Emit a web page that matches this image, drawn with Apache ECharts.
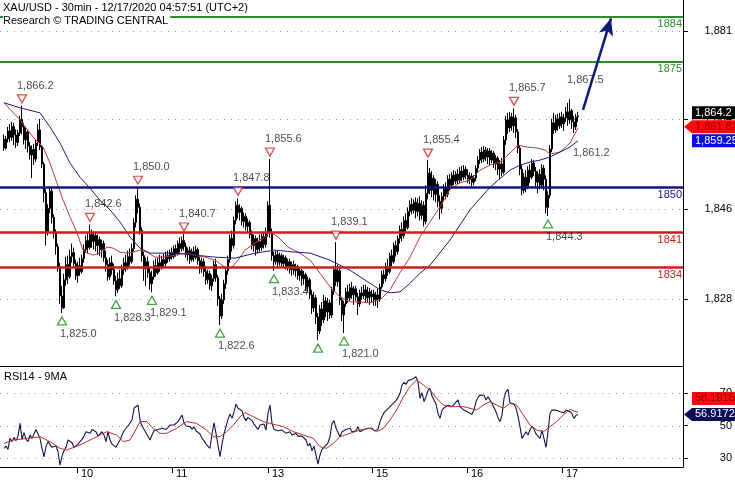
<!DOCTYPE html>
<html><head><meta charset="utf-8">
<script src="https://cdn.jsdelivr.net/npm/echarts@6/dist/echarts.min.js"></script>
<style>html,body{margin:0;padding:0;background:#fff}#c{width:735px;height:480px}</style>
</head><body><div id="c"></div>
<script>
// ---------- DATA ----------
const titleLines = ['XAU/USD - 30min - 12/17/2020 04:57:51 (UTC+2)', 'Research \u00A9 TRADING CENTRAL'];
const rsiTitle = 'RSI14 - 9MA';
// 30-minute candles, one per bar index: [open, close, low, high]
const candles = [
[1859.5,1857.8,1857.2,1860.5],[1857.8,1859.6,1857.5,1860.2],[1859.6,1861.2,1858.9,1862.0],[1861.2,1859.9,1859.0,1862.6],
[1859.9,1862.1,1859.3,1863.0],[1862.1,1860.4,1858.4,1862.8],[1860.4,1858.9,1857.8,1861.5],[1858.9,1860.8,1858.2,1861.4],
[1860.8,1863.5,1860.2,1864.2],[1863.5,1862.0,1860.5,1866.2],[1862.0,1859.4,1858.5,1862.8],[1859.4,1861.0,1857.6,1861.8],
[1861.0,1858.2,1856.9,1861.4],[1858.2,1856.4,1855.5,1859.0],[1856.4,1857.5,1851.8,1858.3],[1857.5,1855.6,1854.4,1858.6],
[1855.6,1858.8,1855.0,1859.4],[1858.8,1861.4,1858.2,1862.6],[1861.4,1858.0,1857.4,1863.6],[1858.0,1854.6,1853.8,1858.4],
[1854.6,1848.9,1847.0,1855.0],[1848.9,1841.2,1838.4,1849.6],[1841.2,1845.8,1840.4,1846.6],[1845.8,1849.2,1844.8,1850.0],
[1849.2,1844.0,1842.8,1849.8],[1844.0,1840.8,1839.8,1844.6],[1840.8,1838.2,1836.6,1841.6],[1838.2,1834.0,1833.2,1838.8],
[1834.0,1828.4,1826.8,1835.0],[1828.4,1826.0,1825.0,1830.4],[1826.0,1831.6,1825.8,1832.8],[1831.6,1834.6,1830.4,1836.2],
[1834.6,1832.2,1830.8,1836.4],[1832.2,1836.2,1831.8,1837.6],[1836.2,1837.0,1835.0,1838.8],[1837.0,1834.8,1834.0,1838.0],
[1834.8,1832.4,1831.6,1835.6],[1832.4,1834.4,1831.0,1835.2],[1834.4,1833.2,1832.4,1836.0],[1833.2,1835.8,1832.8,1836.6],
[1835.8,1837.6,1835.0,1838.6],[1837.6,1839.4,1837.0,1840.4],[1839.4,1838.0,1836.8,1841.0],[1838.0,1840.6,1837.6,1842.6],
[1840.6,1839.2,1838.0,1841.6],[1839.2,1840.4,1837.6,1841.2],[1840.4,1838.4,1837.2,1841.0],[1838.4,1839.6,1836.6,1840.6],
[1839.6,1837.6,1836.4,1840.2],[1837.6,1838.8,1836.0,1839.6],[1838.8,1836.0,1835.2,1839.4],[1836.0,1834.6,1833.2,1837.4],
[1834.6,1832.2,1831.4,1835.6],[1832.2,1835.0,1831.6,1836.0],[1835.0,1833.6,1832.6,1836.4],[1833.6,1831.4,1830.6,1834.8],
[1831.4,1829.6,1828.3,1832.4],[1829.6,1831.8,1829.0,1833.0],[1831.8,1830.4,1829.8,1833.6],[1830.4,1833.6,1830.0,1834.6],
[1833.6,1835.0,1832.6,1836.0],[1835.0,1834.0,1833.2,1836.6],[1834.0,1836.2,1833.6,1837.4],[1836.2,1835.2,1834.4,1837.8],
[1835.2,1837.8,1834.8,1838.8],[1837.8,1843.0,1837.2,1843.8],[1843.0,1847.6,1842.0,1848.4],[1847.6,1846.0,1844.8,1850.0],
[1846.0,1841.4,1840.6,1846.8],[1841.4,1836.4,1835.2,1842.0],[1836.4,1833.8,1831.4,1837.2],[1833.8,1835.2,1830.4,1836.0],
[1835.2,1833.0,1832.0,1836.2],[1833.0,1830.8,1829.6,1834.0],[1830.8,1832.2,1829.1,1833.4],[1832.2,1834.4,1831.6,1835.4],
[1834.4,1833.0,1832.2,1835.8],[1833.0,1835.0,1832.6,1836.0],[1835.0,1834.2,1833.2,1836.6],[1834.2,1835.6,1833.6,1836.4],
[1835.6,1834.8,1834.0,1836.8],[1834.8,1836.4,1834.2,1837.2],[1836.4,1835.8,1835.0,1837.4],[1835.8,1837.0,1835.2,1837.6],
[1837.0,1836.2,1835.6,1838.0],[1836.2,1837.8,1835.8,1838.4],[1837.8,1836.8,1836.2,1838.6],[1836.8,1838.8,1836.4,1839.4],
[1838.8,1837.8,1837.0,1840.0],[1837.8,1839.4,1837.2,1840.2],[1839.4,1838.2,1837.4,1840.7],[1838.2,1836.6,1836.0,1839.0],
[1836.6,1837.4,1835.4,1838.0],[1837.4,1835.6,1834.8,1838.2],[1835.6,1837.2,1835.2,1837.8],[1837.2,1836.0,1835.2,1838.2],
[1836.0,1837.6,1835.6,1838.4],[1837.6,1835.4,1834.6,1838.0],[1835.4,1833.8,1832.8,1836.2],[1833.8,1835.2,1833.0,1836.0],
[1835.2,1833.2,1832.2,1835.8],[1833.2,1831.6,1830.6,1834.2],[1831.6,1832.8,1830.8,1833.6],[1832.8,1830.4,1829.6,1833.4],
[1830.4,1831.8,1829.4,1832.6],[1831.8,1834.6,1831.2,1835.4],[1834.6,1832.0,1831.2,1835.8],[1832.0,1827.8,1826.4,1832.6],
[1827.8,1824.4,1822.6,1828.4],[1824.4,1827.6,1823.8,1828.8],[1827.6,1830.8,1826.8,1831.6],[1830.8,1833.4,1829.8,1834.2],
[1833.4,1835.6,1832.6,1836.4],[1835.6,1839.8,1835.0,1840.6],[1839.8,1838.4,1837.2,1841.4],[1838.4,1843.4,1837.8,1844.2],
[1843.4,1846.4,1842.6,1847.2],[1846.4,1845.0,1843.8,1847.8],[1845.0,1845.8,1843.4,1846.6],[1845.8,1843.2,1842.4,1846.2],
[1843.2,1844.2,1842.0,1845.0],[1844.2,1842.2,1841.4,1844.8],[1842.2,1843.0,1840.8,1843.8],[1843.0,1840.6,1839.8,1843.4],
[1840.6,1838.4,1837.6,1841.4],[1838.4,1839.8,1837.2,1840.6],[1839.8,1837.6,1836.4,1840.4],[1837.6,1839.2,1836.8,1840.0],
[1839.2,1838.0,1837.2,1840.6],[1838.0,1840.2,1837.4,1841.0],[1840.2,1838.6,1837.8,1841.2],[1838.6,1840.8,1838.0,1842.0],
[1840.8,1846.4,1840.2,1847.2],[1846.4,1841.0,1840.0,1855.6],[1841.0,1836.4,1835.4,1841.8],[1836.4,1835.2,1833.4,1837.2],
[1835.2,1836.6,1834.6,1837.4],[1836.6,1835.0,1834.2,1837.4],[1835.0,1836.4,1834.4,1837.0],[1836.4,1834.8,1834.0,1836.8],
[1834.8,1836.0,1834.2,1836.6],[1836.0,1834.2,1833.6,1836.4],[1834.2,1835.2,1833.4,1835.8],[1835.2,1833.6,1832.8,1835.8],
[1833.6,1834.6,1832.4,1835.2],[1834.6,1833.4,1832.6,1835.4],[1833.4,1834.2,1832.2,1834.8],[1834.2,1832.4,1831.6,1834.6],
[1832.4,1833.4,1831.4,1834.0],[1833.4,1831.8,1830.4,1833.8],[1831.8,1832.6,1830.6,1833.4],[1832.6,1830.2,1829.4,1833.0],
[1830.2,1831.6,1829.2,1832.2],[1831.6,1828.6,1827.8,1832.0],[1828.6,1826.0,1824.8,1829.6],[1826.0,1828.0,1825.2,1829.2],
[1828.0,1824.2,1822.8,1828.6],[1824.2,1821.4,1819.6,1825.0],[1821.4,1825.8,1820.8,1826.6],[1825.8,1823.6,1822.4,1827.2],
[1823.6,1827.4,1823.0,1828.6],[1827.4,1825.2,1824.2,1828.2],[1825.2,1827.0,1823.4,1828.0],[1827.0,1824.6,1823.8,1827.6],
[1824.6,1829.4,1824.0,1830.2],[1829.4,1833.6,1828.6,1834.4],[1833.6,1831.2,1830.4,1839.1],[1831.2,1833.4,1830.2,1834.6],
[1833.4,1827.6,1826.6,1834.0],[1827.6,1824.6,1823.4,1828.2],[1824.6,1826.8,1821.0,1827.4],[1826.8,1829.2,1826.2,1830.0],
[1829.2,1828.0,1827.0,1830.6],[1828.0,1830.0,1827.4,1830.8],[1830.0,1828.6,1827.8,1831.2],[1828.6,1829.8,1826.6,1830.4],
[1829.8,1828.2,1827.4,1830.4],[1828.2,1826.8,1824.6,1829.0],[1826.8,1829.0,1826.2,1829.6],[1829.0,1828.4,1827.6,1830.2],
[1828.4,1829.6,1827.8,1830.6],[1829.6,1828.0,1827.2,1830.6],[1828.0,1829.2,1827.2,1830.2],[1829.2,1828.2,1826.6,1830.0],
[1828.2,1828.8,1827.2,1829.6],[1828.8,1827.6,1826.4,1829.6],[1827.6,1828.6,1826.4,1829.2],[1828.6,1827.8,1826.0,1829.8],
[1827.8,1830.2,1827.2,1830.8],[1830.2,1832.6,1829.8,1833.4],[1832.6,1831.8,1830.8,1833.6],[1831.8,1834.2,1831.2,1835.0],
[1834.2,1833.2,1832.4,1835.8],[1833.2,1836.4,1832.8,1837.0],[1836.4,1835.2,1834.2,1837.6],[1835.2,1838.4,1834.8,1839.0],
[1838.4,1837.2,1836.2,1839.4],[1837.2,1839.8,1836.6,1840.4],[1839.8,1841.6,1838.8,1842.4],[1841.6,1840.4,1839.2,1843.0],
[1840.4,1843.4,1839.8,1844.2],[1843.4,1842.0,1841.0,1844.8],[1842.0,1845.2,1841.6,1846.0],[1845.2,1846.6,1844.2,1847.4],
[1846.6,1845.4,1844.6,1847.8],[1845.4,1847.0,1844.8,1847.6],[1847.0,1845.2,1843.8,1848.0],[1845.2,1846.8,1844.2,1847.8],
[1846.8,1844.4,1843.4,1848.2],[1844.4,1846.4,1843.6,1847.4],[1846.4,1843.2,1842.2,1847.2],[1843.2,1848.8,1842.6,1850.4],
[1848.8,1852.8,1847.6,1855.4],[1852.8,1849.4,1848.6,1853.8],[1849.4,1851.8,1848.0,1853.2],[1851.8,1848.6,1847.4,1852.4],
[1848.6,1850.6,1847.0,1851.6],[1850.6,1847.2,1846.0,1851.2],[1847.2,1845.8,1843.6,1848.4],[1845.8,1848.2,1844.8,1849.0],
[1848.2,1849.8,1847.2,1850.6],[1849.8,1848.6,1847.6,1851.0],[1848.6,1851.6,1848.0,1852.4],[1851.6,1850.4,1849.4,1852.6],
[1850.4,1852.4,1849.8,1853.0],[1852.4,1851.2,1850.4,1853.4],[1851.2,1852.6,1850.6,1853.2],[1852.6,1851.4,1850.6,1853.6],
[1851.4,1853.2,1850.8,1854.0],[1853.2,1852.0,1851.2,1854.2],[1852.0,1853.6,1851.4,1854.4],[1853.6,1852.4,1851.6,1854.2],
[1852.4,1851.6,1850.8,1853.6],[1851.6,1852.2,1850.6,1853.0],[1852.2,1851.0,1850.2,1852.8],[1851.0,1851.8,1850.4,1852.4],
[1851.8,1853.8,1851.2,1854.4],[1853.8,1855.4,1853.0,1856.2],[1855.4,1857.0,1854.6,1857.6],[1857.0,1855.6,1854.8,1858.0],
[1855.6,1857.4,1855.0,1858.2],[1857.4,1856.0,1855.2,1858.0],[1856.0,1857.2,1854.6,1857.8],[1857.2,1855.4,1854.4,1857.8],
[1855.4,1856.8,1854.8,1857.4],[1856.8,1854.6,1853.8,1857.2],[1854.6,1855.8,1853.4,1856.4],[1855.8,1853.6,1852.4,1856.2],
[1853.6,1854.6,1851.6,1855.4],[1854.6,1853.0,1852.2,1855.8],[1853.0,1859.4,1852.6,1860.2],[1859.4,1863.4,1858.4,1864.2],
[1863.4,1861.8,1860.6,1864.8],[1861.8,1864.0,1861.0,1865.0],[1864.0,1862.2,1861.2,1864.8],[1862.2,1863.8,1860.8,1865.7],
[1863.8,1861.0,1859.8,1864.4],[1861.0,1857.8,1856.8,1861.6],[1857.8,1853.6,1852.4,1858.4],[1853.6,1849.4,1848.4,1854.4],
[1849.4,1852.0,1848.8,1852.8],[1852.0,1850.2,1849.0,1853.4],[1850.2,1853.4,1849.6,1854.2],[1853.4,1852.0,1850.8,1854.6],
[1852.0,1854.8,1851.6,1855.6],[1854.8,1853.2,1852.2,1855.4],[1853.2,1851.0,1850.0,1854.0],[1851.0,1852.6,1848.8,1853.2],
[1852.6,1850.4,1849.6,1853.6],[1850.4,1853.8,1850.0,1854.6],[1853.8,1851.6,1849.4,1854.4],[1851.6,1846.0,1844.8,1852.4],
[1846.0,1848.4,1844.3,1849.2],[1848.4,1857.6,1847.8,1858.4],[1857.6,1862.8,1857.0,1863.6],[1862.8,1861.4,1860.6,1864.8],
[1861.4,1863.6,1860.8,1864.4],[1863.6,1862.2,1861.2,1864.6],[1862.2,1864.0,1861.6,1864.8],[1864.0,1862.6,1861.8,1865.0],
[1862.6,1863.8,1861.2,1864.6],[1863.8,1865.0,1863.0,1866.0],[1865.0,1863.4,1862.2,1866.8],[1863.4,1865.2,1862.6,1867.5],
[1865.2,1863.0,1861.6,1865.6],[1863.0,1862.0,1860.8,1864.2],[1862.0,1864.0,1861.4,1864.6],[1864.0,1864.2,1863.0,1865.0]
];
// moving averages: [bar, value]
const maFast = [[0,1866.8],[8,1863.4],[14.5,1860.0],[19.5,1858.0],[23,1854.8],[26.5,1850.8],[29.5,1847.5],[33,1844.1],[36.5,1840.9],[39.5,1837.5],[42,1836.9],[44.5,1836.5],[48,1836.9],[51.5,1838.1],[54.5,1837.9],[58,1837.1],[61.5,1836.9],[64.5,1837.1],[68,1837.5],[71.5,1837.1],[75.5,1836.1],[80.5,1836.1],[85.5,1836.5],[90.5,1836.9],[95.5,1836.5],[100.5,1836.1],[105.5,1835.5],[110.5,1834.1],[114,1834.1],[117,1835.5],[120.5,1837.5],[125.5,1838.9],[130.5,1840.1],[133,1841.1],[137,1840.1],[142,1838.1],[148,1836.9],[153,1835.5],[158,1832.9],[163,1830.2],[168,1828.2],[173,1827.2],[178,1827.2],[183,1827.0],[188,1827.6],[193,1829.6],[198,1833.0],[203,1836.1],[208,1840.1],[213,1843.1],[218,1846.1],[223,1849.5],[228,1850.9],[233,1851.4],[238,1853.4],[243,1854.4],[248,1855.0],[253,1856.8],[257,1858.4],[261.5,1858.0],[266.5,1857.8],[270.5,1857.4],[273,1856.6],[278,1857.0],[283,1858.8],[287,1861.82]];
const maSlow = [[0,1866.8],[8,1865.8],[18,1864.8],[23,1862.0],[28,1858.8],[33,1854.8],[38,1852.0],[43,1849.8],[48,1847.4],[53,1845.5],[58,1843.1],[63,1840.1],[68,1837.9],[73,1836.9],[85.5,1836.9],[95.5,1836.5],[105.5,1836.1],[115.5,1835.9],[125.5,1836.9],[135.5,1837.5],[145.5,1837.1],[153,1836.9],[163,1835.5],[173,1833.5],[183,1830.9],[188,1829.6],[193,1829.0],[198,1829.2],[203,1830.9],[208,1832.9],[213,1834.5],[223,1839.5],[233,1845.5],[243,1850.0],[253,1853.4],[258,1854.4],[263,1855.0],[268,1855.4],[273,1856.0],[278,1857.0],[283,1858.0],[287,1859.25]];
// RSI(14) per bar
const rsi = [36.1,37.5,35.4,42.2,40.2,42.8,40.8,43.6,51.4,41.6,
45.7,41.6,40.2,44.3,42.2,41.6,47.7,46.9,42.2,36.1,
30.9,37.1,40.2,41.2,36.7,36.7,37.5,34.0,25.8,31.3,
34.6,36.7,41.2,42.2,39.5,36.7,36.7,38.7,40.2,41.6,
43.6,46.3,47.3,45.3,47.7,48.4,46.3,43.6,44.3,46.3,
44.3,40.2,46.3,41.2,38.7,39.1,36.7,39.1,41.2,44.3,
46.9,46.3,49.8,49.4,53.5,60.7,60.7,62.7,53.5,49.8,
50.4,45.7,46.3,41.2,44.3,46.9,45.7,47.7,47.3,48.4,
49.4,47.7,49.0,50.4,49.8,50.4,51.4,52.5,53.5,56.6,
51.8,49.8,49.0,49.4,47.7,49.4,46.9,45.7,44.9,42.2,
40.8,38.7,37.5,36.1,44.9,51.8,45.3,38.1,30.9,38.7,
44.9,49.4,53.9,57.2,54.5,58.6,63.3,60.7,61.7,59.2,
55.1,53.1,55.1,54.5,53.1,51.0,49.8,47.7,50.4,49.8,
51.0,47.3,57.6,62.7,51.4,47.7,48.4,46.9,46.3,47.3,
46.9,45.3,46.3,46.3,44.3,44.9,45.3,43.6,43.2,43.6,
42.8,41.2,37.5,39.1,34.6,37.5,32.0,26.4,32.0,35.4,
36.7,37.5,39.5,43.2,51.4,53.1,48.4,47.7,43.2,46.3,
45.3,47.7,47.3,48.4,46.3,45.3,46.9,49.4,46.3,47.3,
47.7,47.3,48.4,49.4,48.4,46.9,45.7,47.7,52.5,55.5,
58.0,59.2,60.5,61.7,62.9,64.1,65.4,67.4,69.9,75.0,
76.7,75.4,77.7,77.1,78.5,79.3,80.1,76.9,66.8,70.3,
64.8,67.8,71.5,73.0,68.2,68.8,63.3,57.6,54.5,59.6,
60.9,61.3,62.5,63.7,61.7,63.1,64.1,65.8,61.7,62.5,
59.6,58.8,58.2,57.6,57.0,59.6,64.8,67.4,68.9,69.5,
68.7,65.8,67.8,66.8,63.7,62.7,58.6,55.1,52.5,56.6,
66.8,70.9,72.3,64.1,64.8,63.3,60.7,55.9,49.4,42.2,
41.2,46.3,44.3,47.3,49.8,47.9,44.9,44.9,42.2,47.3,
46.3,36.7,46.3,57.6,59.6,59.2,59.6,59.0,58.6,59.6,
58.0,59.6,60.7,58.6,57.2,54.5,56.4,56.9172];
const rsiMa = [[0,39.1],[4.7,41.2],[11.3,42.2],[18,43.2],[23,40.2],[28,36.1],[31.3,35.0],[38,38.1],[44.7,42.2],[51.3,46.3],[56.3,44.3],[59.7,40.2],[63,41.2],[66.3,48.4],[68,52.5],[71.3,52.5],[74.7,48.4],[78,45.3],[81.3,45.3],[86.3,48.4],[91.3,52.5],[96.3,51.4],[101.3,47.3],[104.7,43.2],[108,43.2],[111.3,46.3],[114.7,50.4],[118,55.5],[120.5,58.0],[124.7,55.5],[129.7,52.5],[133,51.4],[136.3,50.4],[139.7,49.4],[144.7,46.3],[149.7,44.3],[154.7,42.2],[158,37.1],[161.3,36.1],[164.7,39.1],[168,43.2],[173,45.3],[178,47.3],[183,48.4],[186.3,46.3],[189.7,48.4],[193,53.5],[196.3,59.6],[199.7,67.8],[203,74.0],[206.3,78.1],[209.7,75.0],[213,71.9],[216.3,66.8],[219.7,62.7],[223,61.7],[226.3,61.7],[229.7,61.7],[233,60.7],[236.3,59.6],[239.7,62.7],[243,64.8],[246.3,62.7],[249.7,60.7],[253,63.7],[256.3,62.7],[259.7,56.6],[263,50.4],[266.3,47.3],[269.7,46.3],[273,49.4],[276.3,52.5],[279.7,56.6],[283,60.0],[287,58.1915]];
// day boundaries (bar index) and their labels
const dayTicks = [36.5, 84, 132, 184, 231.5, 279];
const dayLabels = ['10', '11', '13', '15', '16', '17'];
const priceTicks = [1827.8, 1845.6, 1863.5, 1881.1];
const rsiTicks = [30, 50, 70];
// support / resistance levels
const levels = [1884, 1875, 1850, 1841, 1834];
const levelKinds = ['res', 'res', 'pivot', 'sup', 'sup'];
// swing highs / lows [bar, price]
const peakBars = [9, 43, 67, 90, 117, 133, 166, 212, 255];
const peakVals = [1866.2, 1842.6, 1850.0, 1840.7, 1847.8, 1855.6, 1839.1, 1855.4, 1865.7];
const lowBars = [29, 56, 74, 108, 135, 157, 170, 272];
const lowVals = [1825.0, 1828.3, 1829.1, 1822.6, 1833.4, 1819.6, 1821.0, 1844.3];
const lowLabelShown = [1, 1, 1, 1, 1, 0, 1, 1];
// free text notes [bar, price] and their text
const notePts = [[281.5, 1871.3], [284.5, 1856.8]];
const noteText = ['1,867.5', '1,861.2'];
// projected path arrow [bar, price]
const arrowPath = [[289.5, 1865.4], [303.5, 1883.6]];
// last values shown on the right scale
const priceLast = [1864.2, 1861.82, 1859.25];
const priceLastDec = [1, 2, 2];
const rsiLast = [58.1915, 56.9172];

// ---------- CHART ----------
const FONT = '"Liberation Sans", Arial, sans-serif';
const comma = s => s.replace(/\B(?=(\d{3})+(?!\d))/g, ',');
const fmtInt = v => comma(String(Math.round(v)));
const fmt1 = v => { const p = v.toFixed(1).split('.'); return comma(p[0]) + '.' + p[1]; };
const fmtN = (v, d) => { const p = v.toFixed(d).split('.'); return comma(p[0]) + (d ? '.' + p[1] : ''); };

const levelColor = {res: '#2e8b2e', pivot: '#14147e', sup: '#d01c1c'};
const levelWidth = {res: 2, pivot: 2.5, sup: 2.5};

const chart = echarts.init(document.getElementById('c'), null, {renderer: 'canvas'});
const XMIN = -2, XMAX = 339.5;

const option = {
  animation: false,
  backgroundColor: '#fff',
  textStyle: {fontFamily: FONT},
  grid: [
    {left: 0, top: 0, width: 683, height: 366},
    {left: 0, top: 366, width: 683, height: 101}
  ],
  xAxis: [
    {type: 'value', gridIndex: 0, min: XMIN, max: XMAX, axisLine: {show: true, onZero: false, lineStyle: {color: '#000', width: 1}},
     axisTick: {show: false}, axisLabel: {show: false}, splitLine: {show: false}},
    {type: 'value', gridIndex: 1, min: XMIN, max: XMAX, axisLine: {show: true, onZero: false, lineStyle: {color: '#000', width: 1}},
     axisTick: {show: true, customValues: dayTicks, length: 6, lineStyle: {color: '#000'}},
     axisLabel: {show: true, customValues: dayTicks, formatter: v => dayLabels[dayTicks.indexOf(v)] || '',
       align: 'left', margin: 1, padding: [0, 0, 0, 4], fontSize: 11, color: '#000', fontFamily: FONT},
     splitLine: {show: false}}
  ],
  yAxis: [
    {type: 'value', gridIndex: 0, position: 'right', min: 1814.45, max: 1887.24,
     axisLine: {show: true, onZero: false, lineStyle: {color: '#000'}},
     axisTick: {show: true, customValues: priceTicks, length: 5, lineStyle: {color: '#000'}},
     axisLabel: {show: true, customValues: priceTicks, formatter: v => fmtInt(v), align: 'right', margin: 49, fontSize: 11, color: '#000', fontFamily: FONT},
     splitLine: {show: false}},
    {type: 'value', gridIndex: 1, position: 'right', min: 24.6, max: 86.7,
     axisLine: {show: true, onZero: false, lineStyle: {color: '#000'}},
     axisTick: {show: true, customValues: rsiTicks, length: 5, lineStyle: {color: '#000'}},
     axisLabel: {show: true, customValues: rsiTicks, formatter: v => String(v), align: 'right', margin: 49, fontSize: 11, color: '#000', fontFamily: FONT},
     splitLine: {show: false}}
  ],
  series: [
    {
      name: 'XAU/USD', type: 'candlestick', xAxisIndex: 0, yAxisIndex: 0,
      data: candles.map((d, i) => [i, d[0], d[1], d[2], d[3]]),
      encode: {x: 0, y: [1, 2, 3, 4]},
      barWidth: 2,
      itemStyle: {color: '#ffffff', color0: '#000000', borderColor: '#000000', borderColor0: '#000000', borderWidth: 1},
      markLine: {
        silent: true, symbol: 'none', animation: false,
        data: levels.map((v, i) => ({
          yAxis: v,
          lineStyle: {color: levelColor[levelKinds[i]], width: levelWidth[levelKinds[i]], type: 'solid'},
          label: {show: true, position: 'insideEndBottom', distance: [1, 2], formatter: String(v),
                  color: levelColor[levelKinds[i]], fontSize: 11, fontFamily: FONT}
        }))
      }
    },
    {
      name: 'MA fast', type: 'line', xAxisIndex: 0, yAxisIndex: 0, data: maFast, showSymbol: false, symbol: 'none',
      lineStyle: {color: '#c03a3a', width: 1}, z: 3
    },
    {
      name: 'MA slow', type: 'line', xAxisIndex: 0, yAxisIndex: 0, data: maSlow, showSymbol: false, symbol: 'none',
      lineStyle: {color: '#1c1c86', width: 1}, z: 3,
      markLine: {
        silent: true, animation: false, symbol: ['none', 'arrow'], symbolSize: [11, 17],
        lineStyle: {color: '#0f1a78', width: 2.5, type: 'solid', curveness: -0.06},
        label: {show: false},
        data: [[{coord: arrowPath[0]}, {coord: arrowPath[1]}]]
      }
    },
    {
      name: 'Highs', type: 'scatter', xAxisIndex: 0, yAxisIndex: 0, z: 6,
      data: peakBars.map((b, i) => [b, peakVals[i]]),
      symbol: 'path://M0,0 L10,0 L5,9 Z', symbolSize: [9, 8], symbolOffset: [0, -7],
      itemStyle: {color: '#ffffff', borderColor: '#d02626', borderWidth: 1.3},
      label: {show: true, position: 'top', distance: 3, align: 'left', offset: [-5, 0], formatter: p => fmt1(p.value[1]),
              color: '#1a1a1a', fontSize: 11, fontFamily: FONT}
    },
    {
      name: 'Lows', type: 'scatter', xAxisIndex: 0, yAxisIndex: 0, z: 6,
      data: lowBars.map((b, i) => ({value: [b, lowVals[i]], label: {show: !!lowLabelShown[i]}})),
      symbol: 'path://M5,0 L10,9 L0,9 Z', symbolSize: [9, 8], symbolOffset: [0, 8],
      itemStyle: {color: '#ffffff', borderColor: '#1e8a1e', borderWidth: 1.3},
      label: {show: true, position: 'bottom', distance: 3, align: 'left', offset: [-2, 0], formatter: p => fmt1(p.value[1]),
              color: '#1a1a1a', fontSize: 11, fontFamily: FONT}
    },
    {
      name: 'Notes', type: 'scatter', xAxisIndex: 0, yAxisIndex: 0, z: 6,
      data: notePts.map((p, i) => ({value: p, name: noteText[i]})),
      symbolSize: 0,
      label: {show: true, position: 'inside', align: 'left', formatter: p => p.name, color: '#1a1a1a', fontSize: 11, fontFamily: FONT}
    },
    {
      name: 'RSI14', type: 'line', xAxisIndex: 1, yAxisIndex: 1, data: rsi.map((v, i) => [i, v]),
      showSymbol: false, symbol: 'none', lineStyle: {color: '#14144e', width: 1.1}, z: 3
    },
    {
      name: '9MA', type: 'line', xAxisIndex: 1, yAxisIndex: 1, data: rsiMa,
      showSymbol: false, symbol: 'none', lineStyle: {color: '#b8302c', width: 1}, z: 3
    }
  ]
};
chart.setOption(option);

// ----- dotted grid lines, right-scale value boxes & texts -----
const py = v => chart.convertToPixel({xAxisIndex: 0, yAxisIndex: 0}, [0, v])[1];
const ry = v => chart.convertToPixel({xAxisIndex: 1, yAxisIndex: 1}, [0, v])[1];
const xL = chart.convertToPixel({xAxisIndex: 0}, XMIN), xR = chart.convertToPixel({xAxisIndex: 0}, XMAX);
let graphics = [];
function dotted(y) {
  const yy = Math.round(y) + 0.5;
  return {type: 'line', z: 0, silent: true, shape: {x1: xL, y1: yy, x2: xR, y2: yy},
          style: {stroke: '#9a9a9a', lineWidth: 1, lineDash: [1, 6]}};
}
priceTicks.forEach(v => graphics.push(dotted(py(v))));
rsiTicks.forEach(v => graphics.push(dotted(ry(v))));

function stack(list, gap) {
  for (let i = list.length - 2; i >= 0; i--) list[i].cy = Math.min(list[i].cy, list[i + 1].cy - gap);
  return list;
}
const BX = 692, BW = 43, BH = 13, TIP = 684;
function box(b) {
  const els = [];
  const top = b.cy - BH / 2;
  if (b.arrow) {
    els.push({type: 'polygon', z: 50, shape: {points: [[TIP, b.cy], [BX, top], [BX + BW, top], [BX + BW, top + BH], [BX, top + BH]]},
              style: {fill: b.bg}});
  } else {
    els.push({type: 'rect', z: 50, shape: {x: BX, y: top, width: BW, height: BH}, style: {fill: b.bg}});
  }
  els.push({type: 'text', z: 51, x: BX + 3, y: b.cy, style: {text: b.text, fill: b.fg, font: '11px ' + FONT, verticalAlign: 'middle'}});
  return els;
}
const mainBoxes = stack([
  {cy: py(priceLast[0]), bg: '#000000', fg: '#ffffff', text: fmtN(priceLast[0], priceLastDec[0])},
  {cy: py(priceLast[1]), bg: '#ff0a0a', fg: '#8a0000', text: fmtN(priceLast[1], priceLastDec[1]), arrow: true},
  {cy: py(priceLast[2]), bg: '#0a0af0', fg: '#ffffff', text: fmtN(priceLast[2], priceLastDec[2])}
], 14);
const rsiBoxes = stack([
  {cy: ry(rsiLast[0]), bg: '#ff0a0a', fg: '#8a0000', text: rsiLast[0].toFixed(4)},
  {cy: ry(rsiLast[1]), bg: '#0c0c58', fg: '#ffffff', text: rsiLast[1].toFixed(4), arrow: true}
], 16);
mainBoxes.concat(rsiBoxes).forEach(b => { graphics = graphics.concat(box(b)); });
graphics.push(
  {type: 'text', z: 60, left: 3, top: 2, style: {text: titleLines[0], fill: '#000', font: '11px ' + FONT, backgroundColor: '#fff', padding: [0, 2, 0, 0]}},
  {type: 'text', z: 60, left: 3, top: 14, style: {text: titleLines[1], fill: '#000', font: '11px ' + FONT, backgroundColor: '#fff', padding: [1, 2, 1, 0]}},
  {type: 'text', z: 60, left: 4, top: 371, style: {text: rsiTitle, fill: '#000', font: '11px ' + FONT}}
);
chart.setOption({graphic: graphics});
</script>
</body></html>
